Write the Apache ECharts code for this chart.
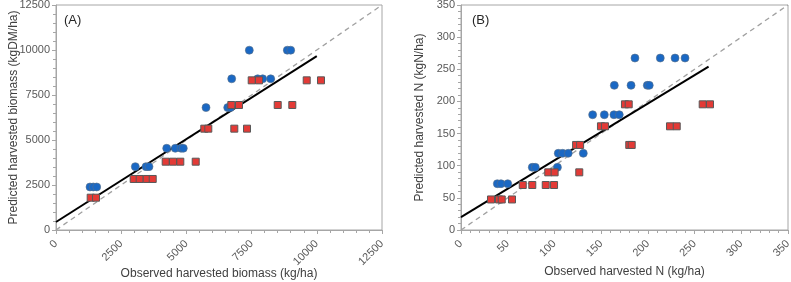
<!DOCTYPE html>
<html>
<head>
<meta charset="utf-8">
<script src="https://cdn.jsdelivr.net/npm/echarts@6/dist/echarts.min.js"></script>
<style>
  html, body { margin: 0; padding: 0; background: #fff; }
  #chart { width: 791px; height: 282px; }
</style>
</head>
<body>
<div id="chart"></div>
<script>
// panel A - harvested biomass (kg/ha)
const biomassObsCircle = [1304, 1430, 1560, 3041, 3451, 3566, 4245, 4574, 4793, 4881, 5752, 6584, 6690, 6737, 7734, 7926, 8232, 7412, 8869, 8999];
const biomassPredCircle = [2390, 2390, 2390, 3520, 3520, 3520, 4540, 4540, 4540, 4540, 6800, 6800, 6800, 8400, 8400, 8400, 8400, 9990, 9990, 9990];
const biomassObsSquare = [1330, 1534, 2979, 3209, 3478, 3708, 4206, 4486, 4766, 5357, 5686, 5840, 6837, 7324, 6722, 7017, 8501, 9061, 7504, 7784, 9613, 10161];
const biomassPredSquare = [1795, 1795, 2835, 2835, 2835, 2835, 3795, 3795, 3795, 3795, 5630, 5630, 5630, 5630, 6945, 6945, 6945, 6945, 8315, 8315, 8315, 8315];
const biomassFit = [[0, 445], [10000, 9660]];
const biomassTicks = [0, 2500, 5000, 7500, 10000, 12500];

// panel B - harvested N (kg/ha)
const nObsCircle = [38.9, 42.8, 50.0, 76.3, 79.5, 103.2, 104.1, 108.8, 114.8, 130.9, 140.9, 153.4, 163.7, 169.4, 164.1, 182, 199.4, 201.5, 186.2, 213.3, 229.1, 239.8];
const nPredCircle = [72, 72, 72, 97.5, 97.5, 97.5, 119.3, 119.3, 119.3, 119.3, 179.3, 179.3, 179.3, 179.3, 225, 225, 225, 225, 267.5, 267.5, 267.5, 267.5];
const nObsSquare = [32.1, 40.7, 43.6, 54.6, 66.1, 76.3, 90.7, 99.6, 93.4, 100.2, 126.6, 123.2, 127.5, 180.1, 182.7, 149.8, 154.1, 223.7, 230.9, 175.5, 179.5, 258.7, 266.5];
const nPredSquare = [47.5, 47.5, 47.5, 47.5, 70, 70, 70, 70, 89.7, 89.7, 89.7, 132.3, 132.3, 132.3, 132.3, 161.3, 161.3, 161.3, 161.3, 195.5, 195.5, 195.5, 195.5];
const nFit = [[0, 20], [265, 254]];
const nTicks = [0, 50, 100, 150, 200, 250, 300, 350];

const zip = (xs, ys) => xs.map((x, i) => [x, ys[i]]);

const blue = "#1a68c4";
const red = "#e33a36";
const axisGray = "#a6a6a6";

// 公共坐标轴样式
const axisBase = (ticks, isX) => ({
  type: "value",
  min: ticks[0],
  max: ticks[ticks.length - 1],
  interval: ticks[1] - ticks[0],
  axisLine: { show: true, lineStyle: { color: axisGray, width: 1 } },
  axisTick: { show: true, inside: false, length: 4, lineStyle: { color: axisGray } },
  minorTick: { show: true, splitNumber: 5, length: 3, lineStyle: { color: axisGray } },
  splitLine: { show: false },
  axisLabel: {
    color: "#595959",
    fontSize: 11,
    fontFamily: "Liberation Sans",
    rotate: isX ? 45 : 0,
    margin: isX ? 12 : 6,
    formatter: (v) => String(v),
  },
  nameLocation: "middle",
  nameMoveOverlap: false,
  nameTextStyle: { color: "#404040", fontSize: 12, fontFamily: "Liberation Sans" },
});

const chart = echarts.init(document.getElementById("chart"));

const gridBase = { top: 5, bottom: 52, show: true, borderColor: axisGray, borderWidth: 1, containLabel: false, outerBoundsMode: "none" };

const option = {
  animation: false,
  grid: [
    Object.assign({ left: 56, right: 409 }, gridBase),
    Object.assign({ left: 461, right: 3 }, gridBase),
  ],
  xAxis: [
    Object.assign(axisBase(biomassTicks, true), { gridIndex: 0, name: "Observed harvested biomass (kg/ha)", nameGap: 38 }),
    Object.assign(axisBase(nTicks, true), { gridIndex: 1, name: "Observed harvested N (kg/ha)", nameGap: 36 }),
  ],
  yAxis: [
    Object.assign(axisBase(biomassTicks, false), { gridIndex: 0, name: "Predicted harvested biomass (kgDM/ha)", nameGap: 36 }),
    Object.assign(axisBase(nTicks, false), { gridIndex: 1, name: "Predicted harvested N (kgN/ha)", nameGap: 35 }),
  ],
  graphic: [
    { type: "text", left: 64, top: 14, style: { text: "(A)", fontSize: 13, fill: "#262626", fontFamily: "Liberation Sans" } },
    { type: "text", left: 472, top: 14, style: { text: "(B)", fontSize: 13, fill: "#262626", fontFamily: "Liberation Sans" } },
  ],
  series: [
    // 1:1 线
    {
      type: "line", xAxisIndex: 0, yAxisIndex: 0, symbol: "none", silent: true,
      data: [[biomassTicks[0], biomassTicks[0]], [biomassTicks[5], biomassTicks[5]]],
      lineStyle: { color: "#a0a0a0", width: 1.3, type: [5, 4] }, z: 1,
    },
    {
      type: "line", xAxisIndex: 0, yAxisIndex: 0, symbol: "none", silent: true,
      data: biomassFit, lineStyle: { color: "#000", width: 2 }, z: 2,
    },
    {
      type: "scatter", xAxisIndex: 0, yAxisIndex: 0, symbol: "circle", symbolSize: 8,
      data: zip(biomassObsCircle, biomassPredCircle),
      itemStyle: { color: blue, borderColor: "#5a6e85", borderWidth: 0.6, opacity: 1 }, z: 3,
    },
    {
      type: "scatter", xAxisIndex: 0, yAxisIndex: 0, symbol: "rect", symbolSize: 7,
      data: zip(biomassObsSquare, biomassPredSquare),
      itemStyle: { color: red, borderColor: "#595959", borderWidth: 1, opacity: 1 }, z: 4,
    },
    {
      type: "line", xAxisIndex: 1, yAxisIndex: 1, symbol: "none", silent: true,
      data: [[nTicks[0], nTicks[0]], [nTicks[7], nTicks[7]]],
      lineStyle: { color: "#a0a0a0", width: 1.3, type: [5, 4] }, z: 1,
    },
    {
      type: "line", xAxisIndex: 1, yAxisIndex: 1, symbol: "none", silent: true,
      data: nFit, lineStyle: { color: "#000", width: 2 }, z: 2,
    },
    {
      type: "scatter", xAxisIndex: 1, yAxisIndex: 1, symbol: "circle", symbolSize: 8,
      data: zip(nObsCircle, nPredCircle),
      itemStyle: { color: blue, borderColor: "#5a6e85", borderWidth: 0.6, opacity: 1 }, z: 3,
    },
    {
      type: "scatter", xAxisIndex: 1, yAxisIndex: 1, symbol: "rect", symbolSize: 7,
      data: zip(nObsSquare, nPredSquare),
      itemStyle: { color: red, borderColor: "#595959", borderWidth: 1, opacity: 1 }, z: 4,
    },
  ],
};

chart.setOption(option);
</script>
</body>
</html>
